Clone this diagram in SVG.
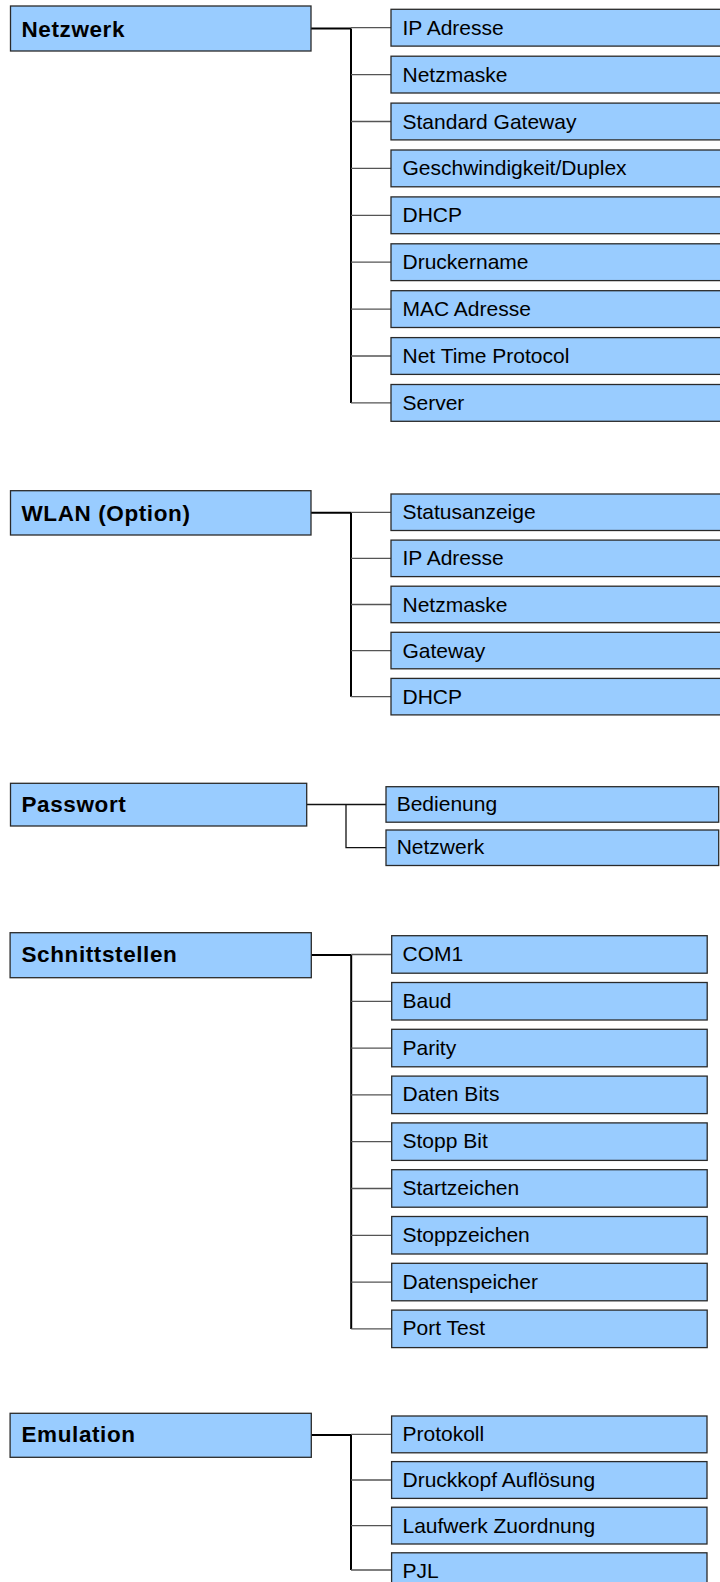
<svg xmlns="http://www.w3.org/2000/svg" width="720" height="1582" viewBox="0 0 720 1582">
<style>
.box{fill:#99ccff;stroke:#2a2a2a;stroke-width:1.3}
.pt{font-family:"Liberation Sans",Arial,sans-serif;font-weight:bold;font-size:22.5px;letter-spacing:0.6px;fill:#000}
.ct{font-family:"Liberation Sans",Arial,sans-serif;font-size:21px;fill:#000}
.thick{stroke:#000;stroke-width:2;fill:none}
.thin{stroke:#555;stroke-width:1.3;fill:none}
.pw{stroke:#111;stroke-width:1.3;fill:none}
</style>
<rect width="720" height="1582" fill="#ffffff"/>
<g id="connectors">
<!-- Netzwerk -->
<path class="thick" d="M311 28.5H351M351 28.5V402.9"/>
<path class="thin" d="M351 27.7H391M351 74.6H391M351 121.5H391M351 168.4H391M351 215.3H391M351 262.2H391M351 309.1H391M351 356H391M351 402.9H391"/>
<!-- WLAN -->
<path class="thick" d="M311 512.7H351M351 512.7V696.7"/>
<path class="thin" d="M351 512.3H391M351 558.4H391M351 604.5H391M351 650.6H391M351 696.7H391"/>
<!-- Passwort -->
<path class="pw" d="M306.7 804.5H386M346 804.5V847.7H386"/>
<!-- Schnittstellen -->
<path class="thick" d="M311.3 955H351.2M351.2 955V1328.9"/>
<path class="thin" d="M351.2 954.5H391.7M351.2 1001.3H391.7M351.2 1048.1H391.7M351.2 1094.9H391.7M351.2 1141.7H391.7M351.2 1188.5H391.7M351.2 1235.3H391.7M351.2 1282.1H391.7M351.2 1328.9H391.7"/>
<!-- Emulation -->
<path class="thick" d="M311.3 1435H351M351 1435V1570"/>
<path class="thin" d="M351 1434.4H391.6M351 1480H391.6M351 1525.6H391.6M351 1570H391.6"/>
</g>
<g id="netzwerk"><rect class="box" x="10.5" y="6" width="300.5" height="45"/><text class="pt" x="21.5" y="36.7">Netzwerk</text></g>
<g id="n-ip"><rect class="box" x="391" y="9.3" width="335" height="36.8"/><text class="ct" x="402.5" y="34.7">IP Adresse</text></g>
<g id="n-mask"><rect class="box" x="391" y="56.2" width="335" height="36.8"/><text class="ct" x="402.5" y="81.6">Netzmaske</text></g>
<g id="n-gw"><rect class="box" x="391" y="103.1" width="335" height="36.8"/><text class="ct" x="402.5" y="128.5">Standard Gateway</text></g>
<g id="n-speed"><rect class="box" x="391" y="150" width="335" height="36.8"/><text class="ct" x="402.5" y="175.4">Geschwindigkeit/Duplex</text></g>
<g id="n-dhcp"><rect class="box" x="391" y="196.9" width="335" height="36.8"/><text class="ct" x="402.5" y="222.3">DHCP</text></g>
<g id="n-name"><rect class="box" x="391" y="243.8" width="335" height="36.8"/><text class="ct" x="402.5" y="269.2">Druckername</text></g>
<g id="n-mac"><rect class="box" x="391" y="290.7" width="335" height="36.8"/><text class="ct" x="402.5" y="316.1">MAC Adresse</text></g>
<g id="n-ntp"><rect class="box" x="391" y="337.6" width="335" height="36.8"/><text class="ct" x="402.5" y="363">Net Time Protocol</text></g>
<g id="n-server"><rect class="box" x="391" y="384.5" width="335" height="36.8"/><text class="ct" x="402.5" y="409.9">Server</text></g>

<g id="wlan"><rect class="box" x="10.5" y="490.7" width="300.5" height="44.3"/><text class="pt" x="21.5" y="520.8">WLAN (Option)</text></g>
<g id="w-status"><rect class="box" x="391" y="494" width="335" height="36.5"/><text class="ct" x="402.5" y="519.3">Statusanzeige</text></g>
<g id="w-ip"><rect class="box" x="391" y="540.1" width="335" height="36.5"/><text class="ct" x="402.5" y="565.4">IP Adresse</text></g>
<g id="w-mask"><rect class="box" x="391" y="586.2" width="335" height="36.5"/><text class="ct" x="402.5" y="611.5">Netzmaske</text></g>
<g id="w-gw"><rect class="box" x="391" y="632.3" width="335" height="36.5"/><text class="ct" x="402.5" y="657.6">Gateway</text></g>
<g id="w-dhcp"><rect class="box" x="391" y="678.4" width="335" height="36.5"/><text class="ct" x="402.5" y="703.7">DHCP</text></g>

<g id="passwort"><rect class="box" x="10.5" y="783.3" width="296.2" height="42.7"/><text class="pt" x="21.5" y="811.7">Passwort</text></g>
<g id="p-bed"><rect class="box" x="386" y="786.7" width="332.7" height="35.5"/><text class="ct" x="396.7" y="810.5">Bedienung</text></g>
<g id="p-net"><rect class="box" x="386" y="830" width="332.7" height="35.5"/><text class="ct" x="396.7" y="853.8">Netzwerk</text></g>

<g id="schnittstellen"><rect class="box" x="10.1" y="932.7" width="301.2" height="45"/><text class="pt" x="21.5" y="962.3">Schnittstellen</text></g>
<g id="s-com1"><rect class="box" x="391.7" y="935.7" width="315.5" height="37.5"/><text class="ct" x="402.5" y="961">COM1</text></g>
<g id="s-baud"><rect class="box" x="391.7" y="982.5" width="315.5" height="37.5"/><text class="ct" x="402.5" y="1007.8">Baud</text></g>
<g id="s-parity"><rect class="box" x="391.7" y="1029.3" width="315.5" height="37.5"/><text class="ct" x="402.5" y="1054.6">Parity</text></g>
<g id="s-data"><rect class="box" x="391.7" y="1076.1" width="315.5" height="37.5"/><text class="ct" x="402.5" y="1101.4">Daten Bits</text></g>
<g id="s-stop"><rect class="box" x="391.7" y="1122.9" width="315.5" height="37.5"/><text class="ct" x="402.5" y="1148.2">Stopp Bit</text></g>
<g id="s-start"><rect class="box" x="391.7" y="1169.7" width="315.5" height="37.5"/><text class="ct" x="402.5" y="1195">Startzeichen</text></g>
<g id="s-stopz"><rect class="box" x="391.7" y="1216.5" width="315.5" height="37.5"/><text class="ct" x="402.5" y="1241.8">Stoppzeichen</text></g>
<g id="s-mem"><rect class="box" x="391.7" y="1263.3" width="315.5" height="37.5"/><text class="ct" x="402.5" y="1288.6">Datenspeicher</text></g>
<g id="s-port"><rect class="box" x="391.7" y="1310.1" width="315.5" height="37.5"/><text class="ct" x="402.5" y="1335.4">Port Test</text></g>

<g id="emulation"><rect class="box" x="10.1" y="1413.3" width="301.2" height="44"/><text class="pt" x="21.5" y="1442.3">Emulation</text></g>
<g id="e-prot"><rect class="box" x="391.6" y="1416" width="315.4" height="36.8"/><text class="ct" x="402.5" y="1441.3">Protokoll</text></g>
<g id="e-kopf"><rect class="box" x="391.6" y="1461.6" width="315.4" height="36.8"/><text class="ct" x="402.5" y="1486.9">Druckkopf Auflösung</text></g>
<g id="e-lauf"><rect class="box" x="391.6" y="1507.2" width="315.4" height="36.8"/><text class="ct" x="402.5" y="1532.5">Laufwerk Zuordnung</text></g>
<g id="e-pjl"><rect class="box" x="391.6" y="1552.8" width="315.4" height="36.8"/><text class="ct" x="402.5" y="1578.1">PJL</text></g>
</svg>
